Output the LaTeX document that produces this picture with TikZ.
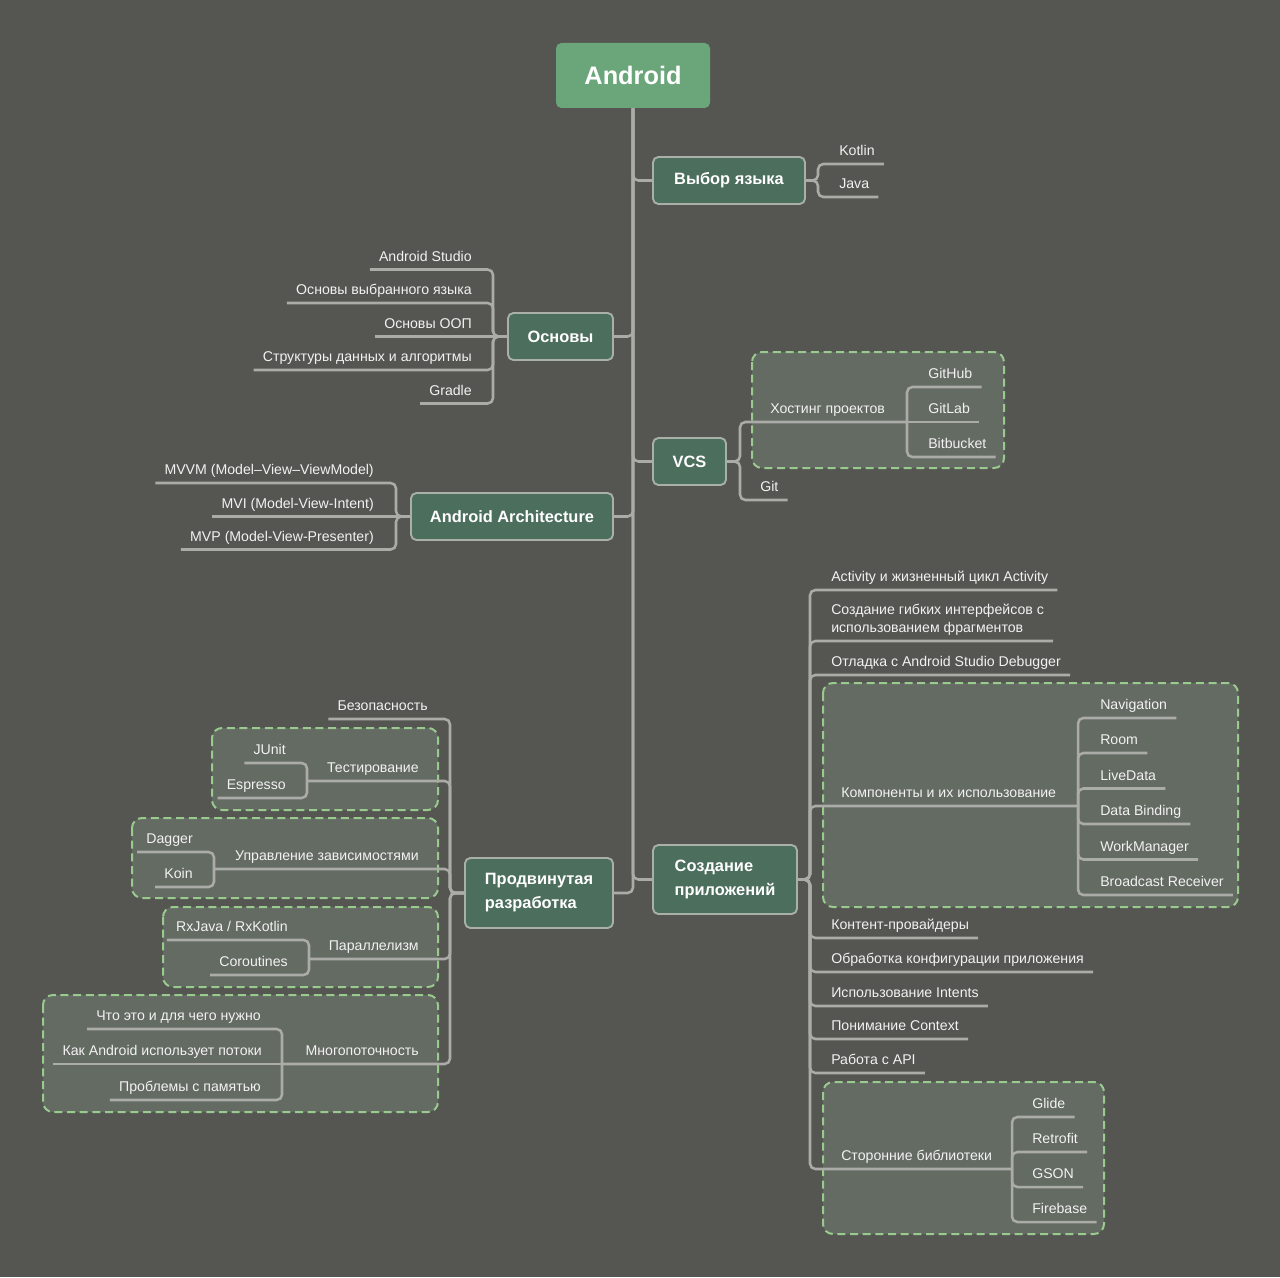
\documentclass[tikz,border=0pt]{standalone}
\usepackage{fontspec}
\setmainfont{Liberation Sans}
\definecolor{bgcol}{HTML}{555652}
\definecolor{rootgreen}{HTML}{6BA67B}
\definecolor{catgreen}{HTML}{4C6E5C}
\definecolor{catborder}{HTML}{A8B0A8}
\definecolor{grpfill}{HTML}{646B63}
\definecolor{grpborder}{HTML}{9ACB8E}
\definecolor{conncol}{HTML}{ABABA8}
\definecolor{leafcol}{HTML}{F2F2F2}
\begin{document}
\begin{tikzpicture}[x=0.75pt,y=-0.75pt,
  conn/.style={draw=conncol, line width=1.9pt, rounded corners=4pt},
  grp/.style={draw=grpborder, fill=grpfill, line width=1.5pt, dash pattern=on 6pt off 3.5pt, rounded corners=7.5pt},
  rootbox/.style={fill=rootgreen, rounded corners=4pt, text=white, font=\bfseries\fontsize{19}{22}\selectfont, minimum width=115.5pt, minimum height=48.75pt, inner sep=0pt},
  cat/.style={draw=catborder, fill=catgreen, line width=1.4pt, rounded corners=4pt, text=white, font=\bfseries\fontsize{12.3}{18}\selectfont, align=center, inner sep=0pt},
  leafR/.style={anchor=south west, text=leafcol, font=\fontsize{10.6}{13.5}\selectfont, inner xsep=6.75pt, inner ysep=6pt, text depth=0pt, align=left},
  leafL/.style={leafR, anchor=south east, align=right},
]
\fill[bgcol] (0,0) rectangle (1280,1277);
\useasboundingbox (0,0) rectangle (1280,1277);

% dashed groups
\draw[grp] (752,352) rectangle (1004,468);
\draw[grp] (212,728) rectangle (438,810);
\draw[grp] (132,818) rectangle (438,898);
\draw[grp] (163,907) rectangle (438,987);
\draw[grp] (43,995) rectangle (438,1112);
\draw[grp] (823,683) rectangle (1238,907);
\draw[grp] (823,1082) rectangle (1104,1234);

% main nodes
\node[rootbox] (root) at (633,75.5) {Android};
\node[cat, minimum width=114pt, minimum height=35.25pt] (lang) at (729,180.5) {Выбор языка};
\node[cat, minimum width=78.75pt, minimum height=35.25pt] (osn) at (560.5,336.5) {Основы};
\node[cat, minimum width=54.75pt, minimum height=35.25pt] (vcs) at (689.5,461.5) {VCS};
\node[cat, minimum width=151.5pt, minimum height=35.25pt] (arch) at (512,516.5) {Android Architecture};
\node[cat, minimum width=111pt, minimum height=52.5pt, align=left] (adv) at (539,893) {Продвинутая\\разработка};
\node[cat, minimum width=108pt, minimum height=51.75pt, align=left] (app) at (725,879.5) {Создание\\приложений};

% bracket coordinates
\coordinate (langB) at (818,180.5);
\coordinate (osnB) at (493,336.5);
\coordinate (vcsB) at (740,461.5);
\coordinate (hostB) at (907,422);
\coordinate (archB) at (396,516.5);
\coordinate (advB) at (450,893);
\coordinate (testB) at (307,781);
\coordinate (depB) at (214,869);
\coordinate (parB) at (309,959);
\coordinate (thrB) at (282,1064);
\coordinate (appB) at (810,879.5);
\coordinate (compB) at (1078,806);
\coordinate (libB) at (1012,1169);

% leaves: language
\node[leafR] (kotlin) at (830,164) {Kotlin};
\node[leafR] (java) at (830,197) {Java};
% basics
\node[leafL] (as) at (481,269.5) {Android Studio};
\node[leafL] (lng) at (481,303) {Основы выбранного языка};
\node[leafL] (oop) at (481,336.5) {Основы ООП};
\node[leafL] (algo) at (481,370) {Структуры данных и алгоритмы};
\node[leafL] (gradle) at (481,403.5) {Gradle};
% vcs
\node[leafR] (host) at (761,422) {Хостинг проектов};
\node[leafR] (github) at (919,387) {GitHub};
\node[leafR] (gitlab) at (919,422) {GitLab};
\node[leafR] (bitb) at (919,457) {Bitbucket};
\node[leafR] (git) at (751,500) {Git};
% architecture
\node[leafL] (mvvm) at (383,483) {MVVM (Model–View–ViewModel)};
\node[leafL] (mvi) at (383,516.5) {MVI (Model-View-Intent)};
\node[leafL] (mvp) at (383,549.5) {MVP (Model-View-Presenter)};
% advanced
\node[leafL] (sec) at (437,719) {Безопасность};
\node[leafL] (test) at (428,781) {Тестирование};
\node[leafL] (junit) at (295,763) {JUnit};
\node[leafL] (espr) at (295,798) {Espresso};
\node[leafL] (dep) at (428,869) {Управление зависимостями};
\node[leafL] (dagger) at (202,852) {Dagger};
\node[leafL] (koin) at (202,887) {Koin};
\node[leafL] (par) at (428,959) {Параллелизм};
\node[leafL] (rx) at (297,940) {RxJava / RxKotlin};
\node[leafL] (corout) at (297,975) {Coroutines};
\node[leafL] (thr) at (428,1064) {Многопоточность};
\node[leafL] (what) at (270,1029) {Что это и для чего нужно};
\node[leafL] (how) at (271,1064) {Как Android использует потоки};
\node[leafL] (mem) at (270,1100) {Проблемы с памятью};
% app creation
\node[leafR] (act) at (822,590) {Activity и жизненный цикл Activity};
\node[leafR] (frag) at (822,641) {Создание гибких интерфейсов с\\использованием фрагментов};
\node[leafR] (dbg) at (822,675) {Отладка с Android Studio Debugger};
\node[leafR] (comp) at (832,806) {Компоненты и их использование};
\node[leafR] (cont) at (822,938) {Контент-провайдеры};
\node[leafR] (conf) at (822,972) {Обработка конфигурации приложения};
\node[leafR] (intent) at (822,1006) {Использование Intents};
\node[leafR] (ctx) at (822,1039) {Понимание Context};
\node[leafR] (api) at (822,1073) {Работа с API};
\node[leafR] (libs) at (832,1169) {Сторонние библиотеки};
\node[leafR] (nav) at (1091,718) {Navigation};
\node[leafR] (room) at (1091,753) {Room};
\node[leafR] (live) at (1091,788.5) {LiveData};
\node[leafR] (bind) at (1091,824) {Data Binding};
\node[leafR] (work) at (1091,859.5) {WorkManager};
\node[leafR] (bcast) at (1091,895) {Broadcast Receiver};
\node[leafR] (glide) at (1023,1117) {Glide};
\node[leafR] (retro) at (1023,1152) {Retrofit};
\node[leafR] (gson) at (1023,1187) {GSON};
\node[leafR] (fire) at (1023,1222) {Firebase};

% trunk
\draw[conn] (root.south) |- (app.west);
\draw[conn] (lang.west) -| (root.south);
\draw[conn] (vcs.west) -| (root.south);
\draw[conn] (osn.east) -| (root.south);
\draw[conn] (arch.east) -| (root.south);
\draw[conn] (adv.east) -| (root.south);

% language
\draw[conn] (lang.east) -- (langB) |- (kotlin.south east);
\draw[conn] (lang.east) -- (langB) |- (java.south east);
% basics
\draw[conn] (osn.west) -- (osnB) |- (as.south west);
\draw[conn] (osn.west) -- (osnB) |- (lng.south west);
\draw[conn] (osn.west) -- (oop.south west);
\draw[conn] (osn.west) -- (osnB) |- (algo.south west);
\draw[conn] (osn.west) -- (osnB) |- (gradle.south west);
% vcs
\draw[conn] (vcs.east) -- (vcsB) |- (host.south west) -- (hostB);
\draw[conn] (vcs.east) -- (vcsB) |- (git.south east);
\draw[conn] (hostB) |- (github.south east);
\draw[conn] (hostB) -- (gitlab.south east);
\draw[conn] (hostB) |- (bitb.south east);
% architecture
\draw[conn] (arch.west) -- (archB) |- (mvvm.south west);
\draw[conn] (arch.west) -- (mvi.south west);
\draw[conn] (arch.west) -- (archB) |- (mvp.south west);
% advanced
\draw[conn] (adv.west) -- (advB) |- (sec.south west);
\draw[conn] (adv.west) -- (advB) |- (test.south east) -- (testB);
\draw[conn] (adv.west) -- (advB) |- (dep.south east) -- (depB);
\draw[conn] (adv.west) -- (advB) |- (par.south east) -- (parB);
\draw[conn] (adv.west) -- (advB) |- (thr.south east) -- (thrB);
\draw[conn] (testB) |- (junit.south west);
\draw[conn] (testB) |- (espr.south west);
\draw[conn] (depB) |- (dagger.south west);
\draw[conn] (depB) |- (koin.south west);
\draw[conn] (parB) |- (rx.south west);
\draw[conn] (parB) |- (corout.south west);
\draw[conn] (thrB) |- (what.south west);
\draw[conn] (thrB) -- (how.south west);
\draw[conn] (thrB) |- (mem.south west);
% app creation
\foreach \n in {act,frag,dbg,cont,conf,intent,ctx,api}
  \draw[conn] (app.east) -- (appB) |- (\n.south east);
\draw[conn] (app.east) -- (appB) |- (comp.south west) -- (compB);
\draw[conn] (app.east) -- (appB) |- (libs.south west) -- (libB);
\foreach \n in {nav,room,live,bind,work,bcast}
  \draw[conn] (compB) |- (\n.south east);
\foreach \n in {glide,retro,gson,fire}
  \draw[conn] (libB) |- (\n.south east);
\end{tikzpicture}
\end{document}
